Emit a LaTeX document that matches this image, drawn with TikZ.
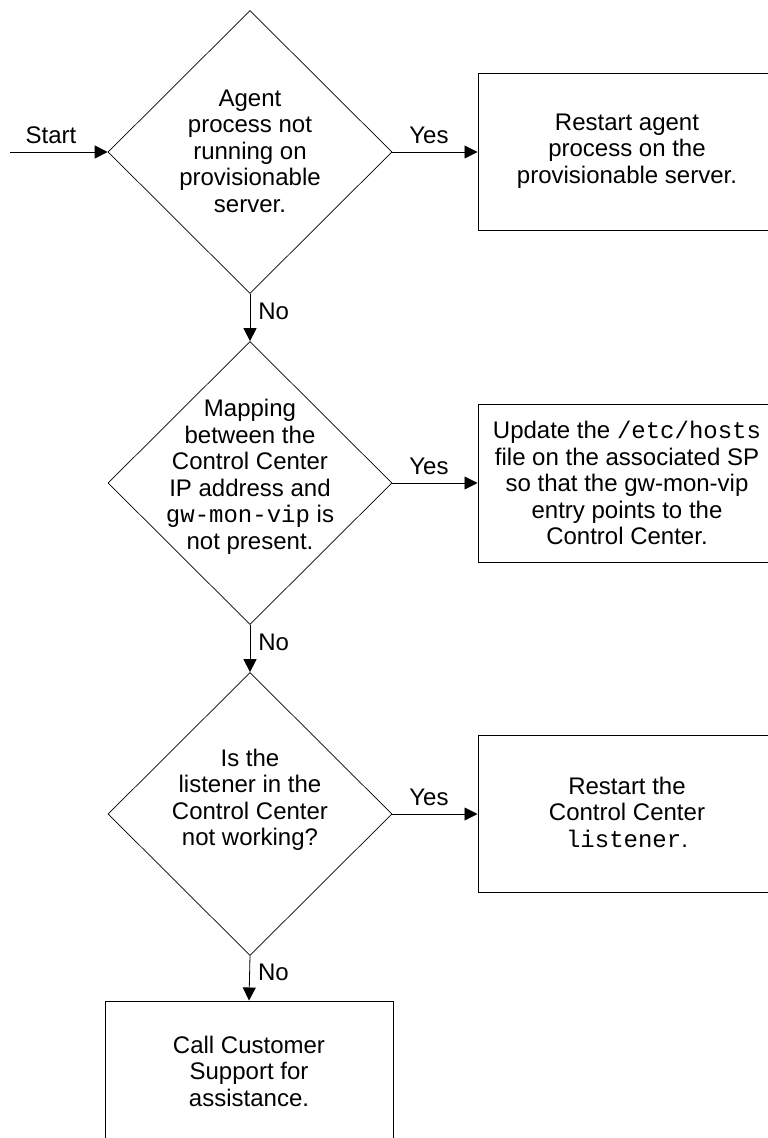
\documentclass[tikz,border=0pt]{standalone}
\usepackage{fontspec}
\setmainfont{Liberation Sans}
\setmonofont{Liberation Mono}
\usetikzlibrary{shapes.geometric,arrows.meta}
\begin{document}
\begin{tikzpicture}[x=1pt,y=-1pt,
  txt/.style={font=\fontsize{24}{26.5}\selectfont, align=center, inner sep=0pt},
  decision/.style={draw, diamond, minimum width=284pt, minimum height=283pt, inner sep=0pt, line width=0.7pt},
  action/.style={draw, rectangle, line width=1pt, inner sep=0pt},
  flow/.style={-{Triangle[length=13pt,width=13pt]}, line width=0.8pt},
  lbl/.style={font=\fontsize{24}{26.5}\selectfont, inner sep=0pt}]
\useasboundingbox (0,0) rectangle (768,1138);

% decisions
\node[decision] (d1) at (250,152) {};
\node[txt] (d1t) at (250,151) {Agent\\process not\\running on\\provisionable\\server.};
\node[decision] (d2) at (250,483) {};
\node[txt] (d2t) at (250,477) {Mapping\\between the\\Control Center\\IP address and\\\texttt{gw-mon-vip} is\\not present.};
\node[decision] (d3) at (250,814) {};
\node[txt] (d3t) at (250,800) {Is the\\listener in the\\Control Center\\not working?};

% actions
\node[action, minimum width=298pt, minimum height=157pt] (b1) at (627,152) {};
\node[txt] (b1t) at (627,151) {Restart agent\\process on the\\provisionable server.};
\node[action, minimum width=298pt, minimum height=158pt] (b2) at (627,483) {};
\node[txt] (b2t) at (627,483) {Update the \texttt{/etc/hosts}\\file on the associated SP\\so that the gw-mon-vip\\entry points to the\\Control Center.};
\node[action, minimum width=298pt, minimum height=157pt] (b3) at (627,814) {};
\node[txt] (b3t) at (627,812) {Restart the\\Control Center\\\texttt{listener}.};
\node[action, minimum width=288pt, minimum height=140pt] (b4) at (249,1071) {};
\node[txt] (b4t) at (249,1071) {Call Customer\\Support for\\assistance.};

% connectors
\coordinate (start) at (10,152);
\draw[flow] (start) -- node[lbl, above=8pt, pos=0.42] {Start} (d1.west);
\draw[flow] (d1.east) -- node[lbl, above=8pt, pos=0.43] {Yes} (b1.west);
\draw[flow] (d2.east) -- node[lbl, above=8pt, pos=0.43] {Yes} (b2.west);
\draw[flow] (d3.east) -- node[lbl, above=8pt, pos=0.43] {Yes} (b3.west);
\draw[flow] (d1.south) -- node[lbl, right=8pt, pos=0.38] {No} (d2.north);
\draw[flow] (d2.south) -- node[lbl, right=8pt, pos=0.38] {No} (d3.north);
\draw[flow] (d3.south) -- node[lbl, right=8pt, pos=0.38] {No} (b4.north);
\end{tikzpicture}
\end{document}
